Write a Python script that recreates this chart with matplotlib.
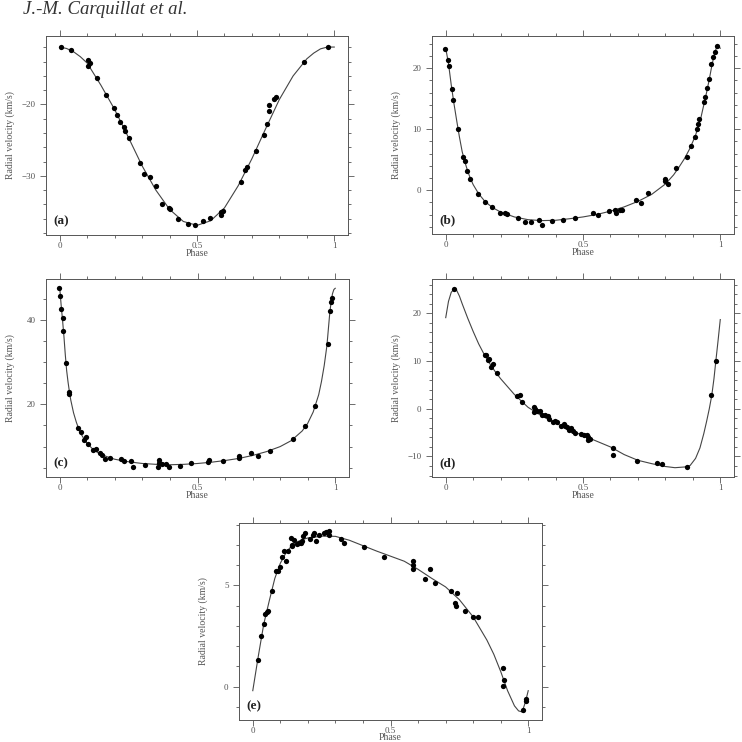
#Radial velocity curves, panels (a)-(e)
import numpy as np
from matplotlib import pyplot as plt
from matplotlib.ticker import MultipleLocator

# observed points (phase, km/s)
phase_a = [0.004, 0.040, 0.103, 0.103, 0.112, 0.135, 0.167, 0.199, 0.210, 0.220, 0.233, 0.239, 0.251, 0.293,
           0.307, 0.330, 0.350, 0.371, 0.397, 0.401, 0.432, 0.469, 0.493, 0.521, 0.546, 0.587, 0.589, 0.594,
           0.659, 0.676, 0.681, 0.716, 0.745, 0.756, 0.762, 0.762, 0.779, 0.789, 0.890, 0.976]
rv_a = [-12.0, -12.3, -13.7, -14.6, -14.25, -16.35, -18.7, -20.55, -21.5, -22.5, -23.1, -23.7, -24.7, -28.2,
        -29.7, -30.2, -31.4, -33.9, -34.5, -34.6, -36.0, -36.8, -36.9, -36.35, -35.9, -35.5, -35.05, -34.95,
        -30.9, -29.2, -28.8, -26.5, -24.25, -22.8, -20.9, -20.05, -19.2, -18.9, -14.07, -11.96]

phase_b = [-0.001, 0.007, 0.012, 0.022, 0.028, 0.045, 0.063, 0.072, 0.076, 0.087, 0.118, 0.143, 0.168, 0.196,
           0.215, 0.222, 0.264, 0.288, 0.312, 0.339, 0.350, 0.388, 0.427, 0.470, 0.536, 0.556, 0.594, 0.617,
           0.621, 0.634, 0.642, 0.692, 0.710, 0.736, 0.798, 0.799, 0.811, 0.838, 0.877, 0.893, 0.909, 0.915,
           0.918, 0.922, 0.941, 0.945, 0.952, 0.958, 0.966, 0.972, 0.981, 0.988]
rv_b = [23.2, 21.4, 20.3, 16.6, 14.75, 10.1, 5.36, 4.75, 3.2, 1.75, -0.66, -1.9, -2.7, -3.7,
        -3.7, -3.9, -4.5, -5.3, -5.3, -4.9, -5.75, -5.1, -4.9, -4.5, -3.8, -4.1, -3.4, -3.3,
        -3.7, -3.3, -3.2, -1.6, -2.1, -0.55, 1.75, 1.5, 1.0, 3.7, 5.46, 7.27, 8.74, 10.0,
        10.9, 11.7, 14.5, 15.3, 16.7, 18.2, 20.7, 21.9, 22.6, 23.7]

phase_c = [-0.002, 0.002, 0.006, 0.010, 0.013, 0.022, 0.033, 0.035, 0.067, 0.078, 0.088, 0.095, 0.104, 0.119,
           0.133, 0.147, 0.153, 0.166, 0.183, 0.221, 0.232, 0.258, 0.267, 0.310, 0.356, 0.359, 0.362, 0.371,
           0.385, 0.396, 0.435, 0.476, 0.539, 0.543, 0.592, 0.650, 0.651, 0.696, 0.718, 0.762, 0.846, 0.891,
           0.925, 0.972, 0.982, 0.985, 0.989]
rv_c = [47.6, 45.6, 42.5, 40.55, 37.5, 29.7, 23.0, 22.4, 14.3, 13.5, 11.5, 12.3, 10.5, 9.3,
        9.4, 8.5, 8.1, 7.0, 7.4, 7.0, 6.6, 6.5, 5.1, 5.7, 5.1, 6.1, 6.8, 5.9,
        5.85, 5.2, 5.3, 6.0, 6.3, 6.9, 6.7, 7.35, 7.7, 8.4, 7.8, 8.9, 11.85, 14.8,
        19.6, 34.4, 42.1, 44.3, 45.2]

phase_d = [0.030, 0.142, 0.146, 0.154, 0.157, 0.166, 0.171, 0.185, 0.260, 0.270, 0.279, 0.320, 0.323, 0.326,
           0.334, 0.343, 0.352, 0.363, 0.371, 0.377, 0.391, 0.399, 0.407, 0.419, 0.429, 0.436, 0.443, 0.448,
           0.456, 0.463, 0.471, 0.491, 0.504, 0.513, 0.518, 0.520, 0.525, 0.610, 0.610, 0.696, 0.768, 0.787,
           0.878, 0.968, 0.983]
rv_d = [25.05, 11.3, 11.2, 10.3, 10.4, 8.7, 9.3, 7.6, 2.6, 2.8, 1.5, -0.6, 0.4, -0.1,
        -0.55, -0.55, -1.25, -1.3, -1.6, -2.1, -2.7, -2.5, -2.85, -3.55, -3.2, -3.6, -3.9, -4.4,
        -4.05, -4.75, -5.1, -5.2, -5.6, -5.6, -6.0, -6.6, -6.3, -8.2, -9.6, -10.9, -11.3, -11.65,
        -12.1, 2.8, 10.05]

phase_e = [0.018, 0.030, 0.039, 0.045, 0.051, 0.057, 0.068, 0.084, 0.090, 0.099, 0.107, 0.114, 0.120, 0.127,
           0.137, 0.143, 0.144, 0.150, 0.162, 0.168, 0.174, 0.179, 0.184, 0.191, 0.208, 0.218, 0.222, 0.231,
           0.242, 0.258, 0.265, 0.275, 0.277, 0.320, 0.332, 0.402, 0.475, 0.581, 0.581, 0.582, 0.627, 0.645,
           0.661, 0.718, 0.734, 0.736, 0.743, 0.770, 0.798, 0.817, 0.909, 0.912, 0.910, 0.981, 0.992, 0.993]
rv_e = [1.34, 2.52, 3.12, 3.61, 3.70, 3.73, 4.72, 5.71, 5.73, 5.91, 6.42, 6.73, 6.22, 6.73,
        7.33, 7.01, 6.93, 7.23, 7.05, 7.08, 7.11, 7.18, 7.43, 7.61, 7.31, 7.52, 7.59, 7.19,
        7.52, 7.61, 7.64, 7.71, 7.49, 7.31, 7.11, 6.91, 6.42, 6.20, 6.01, 5.83, 5.30, 5.81,
        5.12, 4.72, 4.11, 4.01, 4.62, 3.73, 3.42, 3.42, 0.92, 0.33, 0.03, -1.17, -0.71, -0.61]

# fitted orbit curves
fit_phase_a = [0, .025, .05, .075, .1, .15, .2, .25, .3, .35, .4, .45, .5, .55, .6, .65, .7, .75, .8, .85,
               .9, .925, .95, .975, 1]
fit_rv_a = [-11.95, -12.15, -12.6, -13.3, -14.2, -17.3, -20.7, -24.6, -28.6, -32.0, -34.7, -36.4, -36.95,
            -36.3, -34.5, -31.4, -27.6, -23.4, -19.3, -16.0, -13.6, -12.8, -12.2, -11.95, -11.95]

fit_phase_b = [0, .01, .02, .03, .04, .05, .06, .07, .08, .09, .10, .12, .14, .16, .18, .20, .25, .30, .35,
               .40, .45, .50, .55, .60, .65, .70, .75, .80, .83, .85, .87, .89, .91, .93, .95, .96, .97, .98,
               .99, 1.0]
fit_rv_b = [23.3, 20.8, 17.3, 14.2, 11.4, 8.7, 6.3, 4.6, 3.1, 1.9, 0.9, -0.6, -1.7, -2.5, -3.1, -3.6, -4.4,
            -4.85, -5.0, -4.95, -4.7, -4.4, -4.0, -3.45, -2.75, -1.85, -0.7, 1.0, 2.5, 3.8, 5.2, 6.9, 9.0,
            12.0, 16.0, 18.2, 20.6, 22.6, 23.8, 23.3]

fit_phase_c = [0, .005, .01, .015, .02, .025, .03, .035, .04, .05, .06, .07, .08, .09, .10, .12, .14, .16,
               .18, .20, .25, .30, .35, .40, .45, .50, .55, .60, .65, .70, .75, .80, .84, .88, .90, .92, .94,
               .95, .96, .97, .975, .98, .985, .99, .995, 1.0]
fit_rv_c = [47.5, 43.5, 40.0, 36.2, 31.8, 28.0, 25.3, 23.0, 21.0, 18.0, 15.8, 14.0, 12.7, 11.6, 10.7, 9.4,
            8.5, 7.9, 7.4, 7.0, 6.4, 6.0, 5.8, 5.7, 5.8, 6.0, 6.3, 6.7, 7.2, 7.9, 8.8, 10.0, 11.4, 13.7,
            15.5, 18.2, 22.3, 25.4, 29.2, 34.0, 37.8, 41.5, 44.3, 46.2, 47.2, 47.5]

fit_phase_d = [0, .01, .02, .03, .04, .05, .06, .08, .10, .12, .14, .16, .18, .20, .25, .30, .35, .40, .45,
               .50, .55, .60, .65, .70, .75, .80, .835, .87, .89, .91, .926, .94, .95, .96, .969, .977, .984,
               .992, 1.0]
fit_rv_d = [19.1, 22.5, 24.4, 25.1, 24.8, 23.6, 22.0, 19.0, 16.2, 13.6, 11.4, 9.5, 7.8, 6.3, 3.0, 0.3, -1.5,
            -3.0, -4.4, -5.6, -6.8, -8.0, -9.6, -10.8, -11.5, -12.1, -12.35, -12.2, -11.9, -10.4, -8.2,
            -5.2, -2.7, 0.0, 2.8, 6.3, 10.1, 14.3, 18.7]

fit_phase_e = [0, .02, .04, .06, .08, .10, .12, .14, .16, .18, .20, .25, .30, .35, .40, .45, .50, .55, .60,
               .65, .70, .75, .80, .85, .875, .90, .925, .95, .965, .978, .99, 1.0]
fit_rv_e = [-0.2, 1.5, 3.1, 4.25, 5.35, 6.1, 6.6, 6.95, 7.15, 7.27, 7.35, 7.44, 7.43, 7.24, 6.97, 6.7, 6.45,
            6.2, 5.8, 5.35, 4.93, 4.3, 3.45, 2.3, 1.6, 0.75, -0.2, -0.95, -1.2, -1.25, -0.75, -0.2]

labels = ['(a)', '(b)', '(c)', '(d)', '(e)']
ylims = [(-38.3, -10.4), (-7.2, 25.3), (2.8, 49.7), (-14.3, 27.2), (-1.65, 8.09)]
ymajor = [10, 10, 20, 10, 5]
yminor = [2, 2, 5, 2, 1]

plt.rcParams['font.family'] = ['Liberation Serif', 'DejaVu Serif']
fig = plt.figure(figsize=(7.42, 7.42), dpi=100)

W = 742.0
boxes = [(46, 348, 36, 235), (432, 734, 36, 234), (46, 349, 279, 477), (432, 734, 279, 477), (239, 542, 523, 720)]
obs = [(phase_a, rv_a), (phase_b, rv_b), (phase_c, rv_c), (phase_d, rv_d), (phase_e, rv_e)]
fits = [(fit_phase_a, fit_rv_a), (fit_phase_b, fit_rv_b), (fit_phase_c, fit_rv_c),
        (fit_phase_d, fit_rv_d), (fit_phase_e, fit_rv_e)]

grey = '#555555'
for i in range(5):
    l, r, t, b = boxes[i]
    ax = fig.add_axes([l / W, 1 - b / W, (r - l) / W, (b - t) / W])
    ax.plot(fits[i][0], fits[i][1], color='#444444', lw=0.8)
    ax.plot(obs[i][0], obs[i][1], 'o', color='black', ms=3.8, mew=0)
    ax.set_xlim(-0.05, 1.05)
    ax.set_ylim(*ylims[i])
    ax.set_xticks([0, 0.5, 1])
    ax.set_xticklabels(['0', '0.5', '1'])
    ax.xaxis.set_minor_locator(MultipleLocator(0.1))
    ax.yaxis.set_major_locator(MultipleLocator(ymajor[i]))
    ax.yaxis.set_minor_locator(MultipleLocator(yminor[i]))
    ax.tick_params(which='both', direction='out', top=True, right=True, color=grey, width=0.6,
                   labelsize=6.5, labelcolor=grey)
    ax.tick_params(which='major', length=4)
    ax.tick_params(which='minor', length=2.5)
    ax.tick_params(axis='x', pad=1.0)
    ax.tick_params(axis='y', pad=3.5)
    for s in ax.spines.values():
        s.set_color(grey)
        s.set_linewidth(0.7)
    ax.set_xlabel('Phase', fontsize=7, color=grey)
    ax.xaxis.set_label_coords(0.5, -13.5 / (b - t))
    ax.set_ylabel('Radial velocity (km/s)', fontsize=7, color=grey)
    ax.yaxis.set_label_coords(-31 / (r - l), 0.5)
    ax.text(0.024, 0.04, labels[i], transform=ax.transAxes, fontsize=9.5, fontweight='bold',
            color='#222222', va='bottom', ha='left')

fig.text(23 / W, 1 - 13.5 / W, 'J.-M. Carquillat et al.', fontsize=13.5, style='italic',
         va='baseline', ha='left', color='#333333')

plt.savefig('out.png', dpi=100)
